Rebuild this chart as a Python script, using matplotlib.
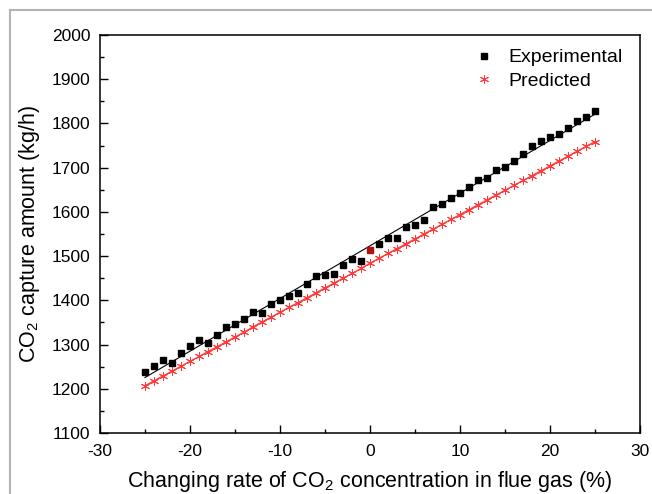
import numpy as np
import matplotlib
matplotlib.use("Agg")
import matplotlib.pyplot as plt
from matplotlib.lines import Line2D

plt.rcParams["font.family"] = ["Liberation Sans", "DejaVu Sans"]
plt.rcParams["mathtext.fontset"] = "custom"
plt.rcParams["mathtext.rm"] = "Liberation Sans"
plt.rcParams["mathtext.it"] = "Liberation Sans:italic"
plt.rcParams["axes.unicode_minus"] = False

# changing rate of CO2 concentration (%)
rate = list(range(-25, 26))

experimental = [1239, 1252, 1264, 1258, 1282, 1297, 1310, 1304, 1322, 1339,
                1346, 1357, 1374, 1371, 1391, 1401, 1410, 1417, 1437, 1454,
                1457, 1460, 1479, 1493, 1489, 1513, 1527, 1540, 1542, 1565,
                1570, 1581, 1611, 1618, 1631, 1643, 1657, 1673, 1677, 1695,
                1702, 1715, 1730, 1748, 1761, 1769, 1777, 1789, 1806, 1815,
                1829]

predicted = [1207, 1218, 1229, 1240, 1251, 1262, 1273, 1284, 1295, 1306,
             1317, 1328, 1340, 1351, 1362, 1373, 1384, 1395, 1406, 1417,
             1428, 1439, 1450, 1461, 1472, 1484, 1495, 1506, 1517, 1528,
             1539, 1550, 1561, 1572, 1583, 1594, 1605, 1616, 1627, 1638,
             1649, 1660, 1671, 1682, 1693, 1704, 1715, 1726, 1737, 1748,
             1759]

base_rate = 0  # reference point drawn in dark red

x = np.array(rate)
y_exp = np.array(experimental)
y_pred = np.array(predicted)

fig = plt.figure(figsize=(6.52, 4.94), dpi=100)
ax = fig.add_axes([100 / 652, (494 - 433) / 494, 540 / 652, 398 / 494])

# linear fit through the experimental points
k, b = np.polyfit(x, y_exp, 1)
ax.plot(x, k * x + b, color="black", lw=0.8, zorder=2)

ast = (6, 2, 0)
red = "#ff3a3a"
ax.plot(x, y_pred, color=red, lw=0.9, zorder=2)
ax.plot(x, y_pred, ls="none", marker=ast, ms=6.5, mew=0.7, mec=red,
        zorder=3)

mask = x != base_rate
ax.plot(x[mask], y_exp[mask], ls="none", marker="s", ms=4.6, color="black",
        zorder=4)
ax.plot(x[~mask], y_exp[~mask], ls="none", marker="s", ms=4.6,
        color="#b01010", zorder=4)

handles = [Line2D([], [], ls="none", marker="s", ms=4.6, color="black"),
           Line2D([], [], ls="none", marker=ast, ms=6.5, mew=0.7, mec=red)]
ax.legend(handles, ["Experimental", "Predicted"], loc="upper right",
          frameon=False, fontsize=14, handlelength=1.0, handletextpad=0.75,
          labelspacing=0.3, borderaxespad=0.0,
          bbox_to_anchor=(0.982, 0.985))

ax.set_xlim(-30, 30)
ax.set_ylim(1100, 2000)
ax.set_xticks(range(-30, 31, 10))
ax.set_xticks(range(-25, 30, 10), minor=True)
ax.set_yticks(range(1100, 2001, 100))
ax.set_yticks(range(1150, 2000, 100), minor=True)
ax.tick_params(which="both", direction="in", top=False, right=False,
               labelsize=12.5, width=1)
ax.tick_params(which="major", length=6)
ax.tick_params(axis="x", which="major", pad=8)
ax.tick_params(axis="y", which="major", pad=7)
ax.tick_params(which="minor", length=3)
for sp in ax.spines.values():
    sp.set_linewidth(1.1)

ax.set_xlabel("Changing rate of CO$_2$ concentration in flue gas (%)",
              fontsize=15.5, labelpad=7)
ax.set_ylabel("CO$_2$ capture amount (kg/h)", fontsize=15.5, labelpad=7)

# outer page frame
fig.add_artist(Line2D([10 / 652, 10 / 652], [0, 1 - 10 / 494],
                      transform=fig.transFigure, color="#b4b4b4", lw=1.5))
fig.add_artist(Line2D([10 / 652, 1], [1 - 10 / 494, 1 - 10 / 494],
                      transform=fig.transFigure, color="#b4b4b4", lw=1.5))

fig.savefig("out.png", dpi=100)
